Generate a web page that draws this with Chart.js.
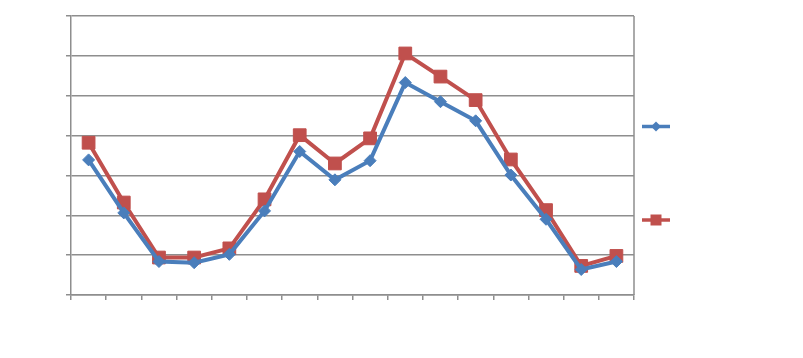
<!DOCTYPE html>
<html>
<head>
<meta charset="utf-8">
<script src="https://cdn.jsdelivr.net/npm/chart.js@4"></script>
<style>
  html, body { margin: 0; padding: 0; background: #fff; }
  #wrap { width: 803px; height: 358px; position: relative; }
</style>
</head>
<body>
<div id="wrap"><canvas id="lineChart"></canvas></div>
<script>
// 16 categories, no labels shown on the original
const categories = ['', '', '', '', '', '', '', '', '', '', '', '', '', '', '', ''];
const seriesBlue = [3.39, 2.06, 0.84, 0.81, 1.02, 2.11, 3.60, 2.89, 3.37, 5.33, 4.85, 4.37, 3.01, 1.90, 0.64, 0.84];
const seriesRed = [3.82, 2.32, 0.94, 0.94, 1.17, 2.40, 4.01, 3.30, 3.93, 6.06, 5.48, 4.89, 3.40, 2.13, 0.73, 0.98];
const yTicks = [0, 1, 2, 3, 4, 5, 6, 7];

const blue = '#4a7ebb';
const red = '#c0504d';
const gridColor = '#8e8e8e';

// right frame line + legend swatches (legend has no text in the original)
const frameAndLegend = {
  id: 'frameAndLegend',
  afterDraw(chart) {
    const { ctx, chartArea } = chart;
    ctx.save();
    ctx.strokeStyle = gridColor;
    ctx.lineWidth = 1.5;
    ctx.beginPath();
    ctx.moveTo(chartArea.right, chartArea.top);
    ctx.lineTo(chartArea.right, chartArea.bottom);
    ctx.stroke();

    const x0 = chartArea.right + 8;
    const x1 = chartArea.right + 36;
    const cx = (x0 + x1) / 2;
    const items = [
      { y: chartArea.top + 110.5, color: blue, shape: 'diamond' },
      { y: chartArea.top + 204, color: red, shape: 'square' }
    ];
    items.forEach(it => {
      ctx.strokeStyle = it.color;
      ctx.fillStyle = it.color;
      ctx.lineWidth = 3.5;
      ctx.beginPath();
      ctx.moveTo(x0, it.y);
      ctx.lineTo(x1, it.y);
      ctx.stroke();
      ctx.beginPath();
      if (it.shape === 'diamond') {
        ctx.moveTo(cx - 5, it.y);
        ctx.lineTo(cx, it.y - 5);
        ctx.lineTo(cx + 5, it.y);
        ctx.lineTo(cx, it.y + 5);
        ctx.closePath();
      } else {
        ctx.rect(cx - 5.5, it.y - 5.5, 11, 11);
      }
      ctx.fill();
    });
    ctx.restore();
  }
};

new Chart(document.getElementById('lineChart'), {
  type: 'line',
  data: {
    labels: categories,
    datasets: [{
      label: 'Series 1',
      data: seriesBlue,
      borderColor: blue,
      backgroundColor: blue,
      borderWidth: 4,
      pointStyle: 'rectRot',
      pointRadius: 6,
      pointBorderWidth: 1,
      tension: 0
    }, {
      label: 'Series 2',
      data: seriesRed,
      borderColor: red,
      backgroundColor: red,
      borderWidth: 4,
      pointStyle: 'rect',
      pointRadius: 9,
      pointBorderWidth: 1,
      tension: 0
    }]
  },
  options: {
    responsive: true,
    maintainAspectRatio: false,
    animation: false,
    layout: { padding: { left: 66, right: 169, top: 16, bottom: 58 } },
    plugins: {
      legend: { display: false },
      tooltip: { enabled: false }
    },
    scales: {
      x: {
        offset: true,
        grid: {
          offset: true,
          drawOnChartArea: false,
          drawTicks: true,
          tickLength: 5,
          color: gridColor,
          lineWidth: 1.5
        },
        border: { color: gridColor, width: 1.5 },
        ticks: { display: false }
      },
      y: {
        min: yTicks[0],
        max: yTicks[yTicks.length - 1],
        afterBuildTicks(scale) {
          scale.ticks = yTicks.map(v => ({ value: v }));
        },
        grid: {
          color: gridColor,
          lineWidth: 1.5,
          drawTicks: true,
          tickLength: 5
        },
        border: { color: gridColor, width: 1.5 },
        ticks: { display: false }
      }
    }
  },
  plugins: [frameAndLegend]
});
</script>
</body>
</html>
